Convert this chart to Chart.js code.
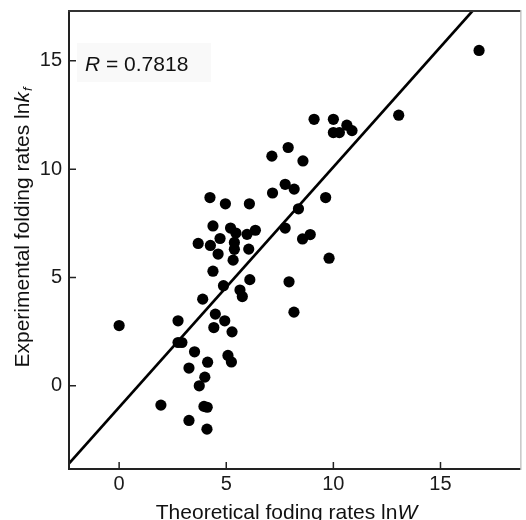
<!DOCTYPE html>
<html><head><meta charset="utf-8">
<script src="https://cdn.jsdelivr.net/npm/chart.js@4.4.1/dist/chart.umd.min.js"></script>
<style>html,body{margin:0;padding:0;background:#fff}#wrap{width:526px;height:520px}</style>
</head><body><div id="wrap"><canvas id="c" width="526" height="520"></canvas></div>
<script>
// Theoretical folding rates lnW (x) and experimental folding rates lnkf (y)
const lnW = [16.8, 13.05, 9.1, 10.0, 10.63, 10.0, 10.28, 10.87, 7.89, 7.13, 8.58, 7.75, 8.17, 7.16, 9.64, 8.37, 7.75, 8.56, 8.92, 9.8, 7.93, 8.16,
  4.24, 4.96, 6.08, 4.38, 5.2, 6.36, 5.97, 5.45, 4.71, 3.69, 4.26, 5.38, 5.38, 6.05, 4.62, 5.32, 4.38, 6.1, 4.87, 5.64, 5.75, 3.9,
  4.49, 4.93, 2.75, 0.0, 4.42, 5.27, 2.75, 2.93, 3.52, 5.08, 5.24, 4.13, 3.26, 4.0, 3.74, 1.95, 3.96, 4.11, 3.26, 4.1];
const lnKf = [15.48, 12.49, 12.3, 12.3, 12.03, 11.69, 11.69, 11.78, 11.0, 10.6, 10.38, 9.3, 9.08, 8.9, 8.69, 8.17, 7.28, 6.78, 6.98, 5.89, 4.8, 3.4,
  8.69, 8.4, 8.4, 7.38, 7.28, 7.18, 6.99, 7.05, 6.8, 6.57, 6.48, 6.62, 6.3, 6.31, 6.08, 5.8, 5.29, 4.9, 4.62, 4.42, 4.12, 4.0,
  3.31, 3.0, 3.0, 2.78, 2.69, 2.49, 2.0, 2.0, 1.57, 1.4, 1.1, 1.09, 0.82, 0.4, 0.0, -0.89, -0.95, -0.99, -1.6, -2.0];
// regression line end points
const fitX = [-3, 18];
const fitY = [-4.32, 18.97];
// tick labels
const xTicks = [0, 5, 10, 15];
const yTicks = [0, 5, 10, 15];
const xTitleParts = [["Theoretical foding rates ln", false], ["W", true]];
const yTitleParts = [["Experimental folding rates ln", false], ["k", true]];
const ySub = "f";
const rLabel = "R";
const rValue = " = 0.7818";

const FONT = "'Liberation Sans', Arial, Helvetica, sans-serif";

function measureParts(ctx, parts, size) {
  return parts.map(p => { ctx.font = (p[1] ? 'italic ' : '') + size + 'px ' + FONT; return ctx.measureText(p[0]).width; });
}

const deco = {
  id: 'deco',
  beforeDatasetsDraw(chart) {
    const ctx = chart.ctx;
    ctx.save();
    ctx.fillStyle = '#f9f9f9';
    ctx.fillRect(77, 43, 134, 39);
    ctx.restore();
  },
  afterDraw(chart) {
    const ctx = chart.ctx;
    const a = chart.chartArea;
    const xs = chart.scales.x, ys = chart.scales.y;
    ctx.save();
    // frame
    ctx.lineCap = 'butt';
    ctx.strokeStyle = '#222';
    ctx.lineWidth = 2;
    ctx.beginPath();
    ctx.moveTo(a.left, a.top); ctx.lineTo(a.left, a.bottom + 1);
    ctx.moveTo(a.left - 1, a.bottom); ctx.lineTo(a.right, a.bottom);
    ctx.stroke();
    ctx.strokeStyle = '#333';
    ctx.beginPath();
    ctx.moveTo(a.left - 1, a.top); ctx.lineTo(a.right, a.top);
    ctx.stroke();
    ctx.strokeStyle = '#aaa';
    ctx.lineWidth = 1;
    ctx.beginPath();
    ctx.moveTo(a.right + 0.5, a.top - 1); ctx.lineTo(a.right + 0.5, a.bottom + 1);
    ctx.stroke();
    // inward ticks
    ctx.strokeStyle = '#222';
    ctx.lineWidth = 1.5;
    ctx.beginPath();
    xTicks.forEach(v => { const p = xs.getPixelForValue(v); ctx.moveTo(p, a.bottom); ctx.lineTo(p, a.bottom - 7); });
    yTicks.forEach(v => { const p = ys.getPixelForValue(v); ctx.moveTo(a.left, p); ctx.lineTo(a.left + 7, p); });
    ctx.stroke();
    // x title
    ctx.fillStyle = '#111';
    ctx.textBaseline = 'alphabetic';
    ctx.textAlign = 'left';
    const size = 21;
    let w = measureParts(ctx, xTitleParts, size);
    let total = w.reduce((s, v) => s + v, 0);
    let x = 286.5 - total / 2;
    xTitleParts.forEach((p, i) => { ctx.font = (p[1] ? 'italic ' : '') + size + 'px ' + FONT; ctx.fillText(p[0], x, 519); x += w[i]; });
    // y title (rotated)
    ctx.save();
    ctx.translate(28.5, 227.5);
    ctx.rotate(-Math.PI / 2);
    w = measureParts(ctx, yTitleParts, size);
    ctx.font = 'italic 13px ' + FONT;
    const sw = ctx.measureText(ySub).width;
    total = w.reduce((s, v) => s + v, 0) + sw + 1;
    x = -total / 2;
    yTitleParts.forEach((p, i) => { ctx.font = (p[1] ? 'italic ' : '') + size + 'px ' + FONT; ctx.fillText(p[0], x, 0); x += w[i]; });
    ctx.font = 'italic 13px ' + FONT;
    ctx.fillText(ySub, x + 1, 3);
    ctx.restore();
    // R annotation
    ctx.font = 'italic 21px ' + FONT;
    ctx.fillText(rLabel, 85, 70.5);
    const rw = ctx.measureText(rLabel).width;
    ctx.font = '21px ' + FONT;
    ctx.fillText(rValue, 85 + rw, 70.5);
    ctx.restore();
  }
};

const points = lnW.map((v, i) => ({ x: v, y: lnKf[i] }));
const fitLine = fitX.map((v, i) => ({ x: v, y: fitY[i] }));

new Chart(document.getElementById('c'), {
  type: 'scatter',
  data: {
    datasets: [
      { type: 'scatter', data: points, backgroundColor: '#000', borderWidth: 0, pointRadius: 5.6, pointHoverRadius: 5.6 },
      { type: 'line', data: fitLine, borderColor: '#000', borderWidth: 2.7, pointRadius: 0, fill: false, showLine: true }
    ]
  },
  options: {
    responsive: false,
    animation: false,
    devicePixelRatio: 1,
    layout: { padding: { top: 11, right: 1, left: 0, bottom: 0 } },
    plugins: { legend: { display: false }, tooltip: { enabled: false } },
    scales: {
      x: {
        type: 'linear', min: -2.34, max: 18.73,
        afterBuildTicks: s => { s.ticks = xTicks.map(v => ({ value: v })); },
        afterFit: s => { s.height = 51; s.paddingLeft = 0; s.paddingRight = 0; },
        grid: { display: false, drawTicks: false },
        border: { display: false },
        ticks: { font: { family: FONT, size: 20 }, color: '#1a1a1a', padding: 3, maxRotation: 0 }
      },
      y: {
        type: 'linear', min: -3.84, max: 17.30,
        afterBuildTicks: s => { s.ticks = yTicks.map(v => ({ value: v })); },
        afterFit: s => { s.width = 69; s.paddingTop = 0; s.paddingBottom = 0; },
        grid: { display: false, drawTicks: false },
        border: { display: false },
        ticks: { font: { family: FONT, size: 20 }, color: '#1a1a1a', padding: 7 }
      }
    }
  },
  plugins: [deco]
});
</script>
</body></html>
